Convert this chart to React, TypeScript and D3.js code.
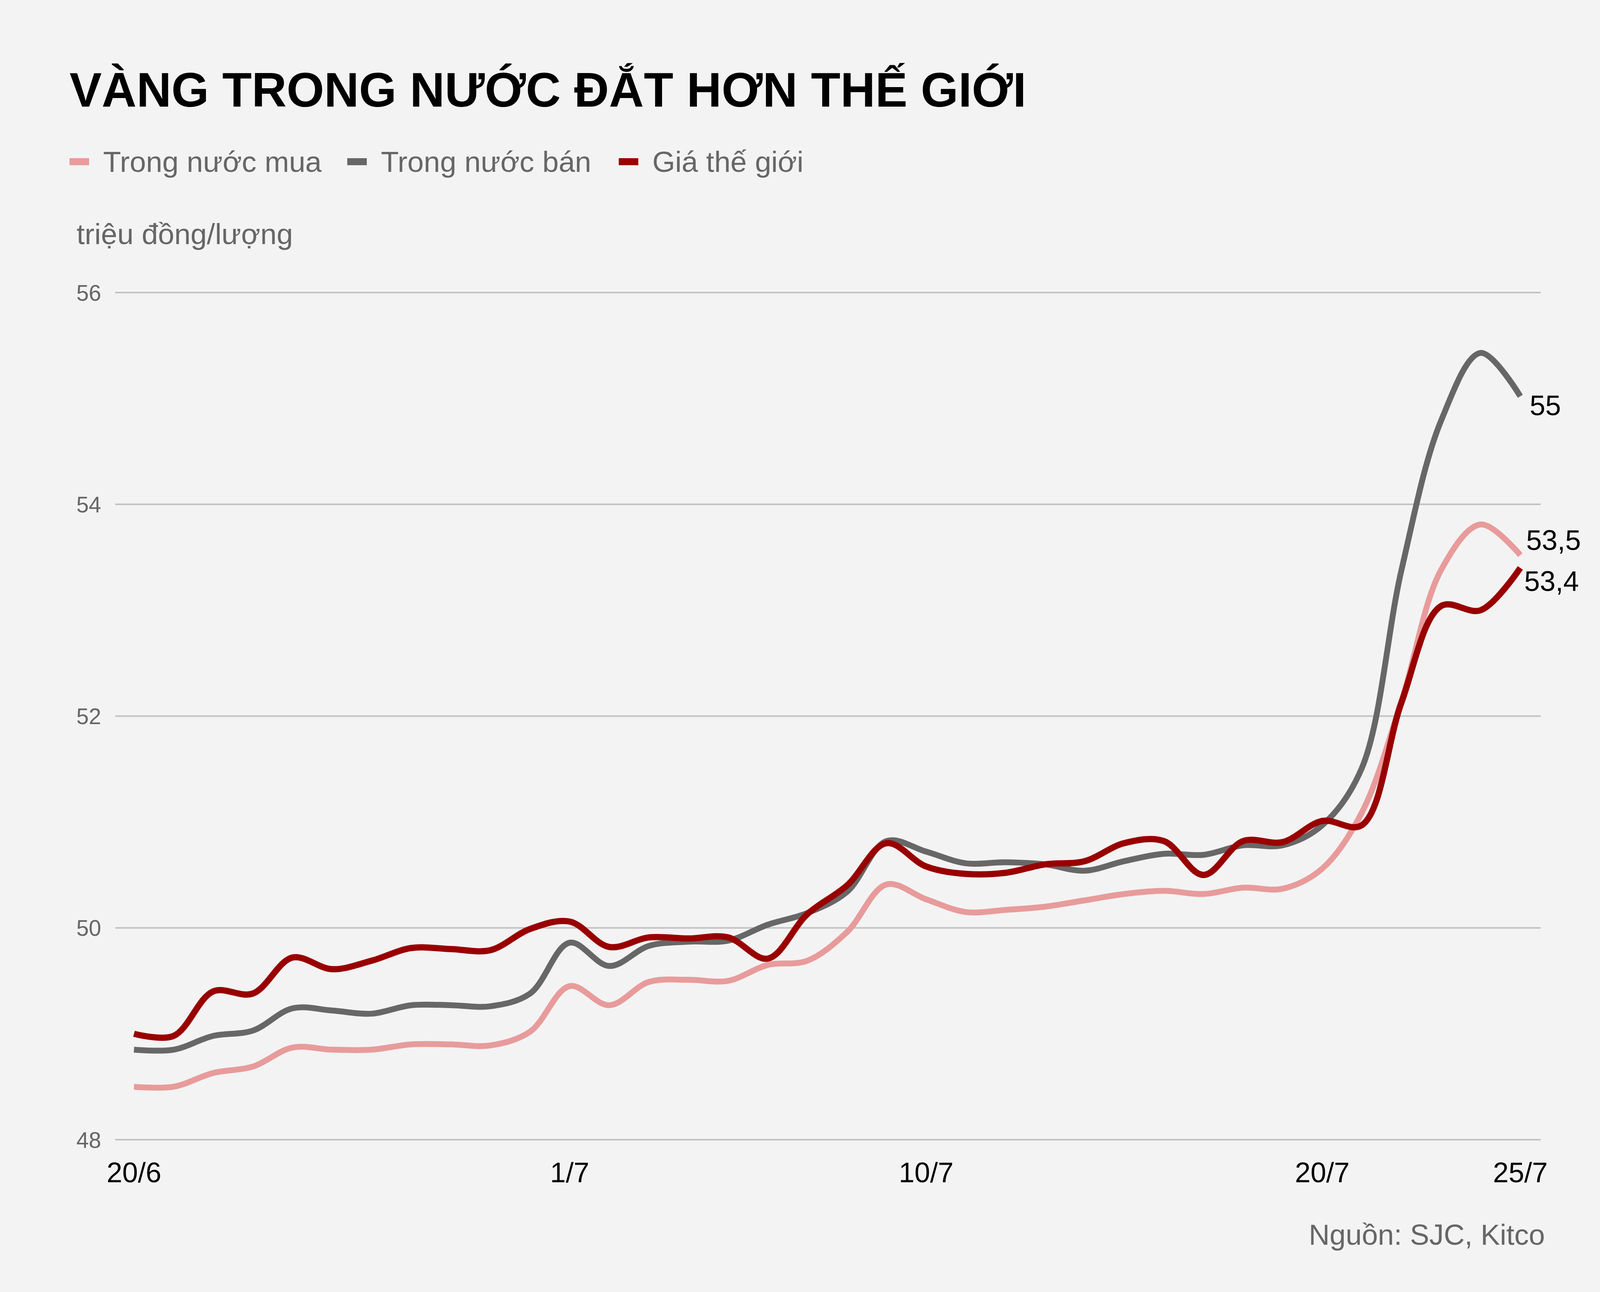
import React from "react";
import * as d3 from "d3";

const dates = ["20/6","21/6","22/6","23/6","24/6","25/6","26/6","27/6","28/6","29/6","30/6","1/7","2/7","3/7","4/7","5/7","6/7","7/7","8/7","9/7","10/7","11/7","12/7","13/7","14/7","15/7","16/7","17/7","18/7","19/7","20/7","21/7","22/7","23/7","24/7","25/7"];
const tickLabels = ["20/6","1/7","10/7","20/7","25/7"];
const yTicks = [48, 50, 52, 54, 56];

const buyDomestic = [48.50,48.50,48.63,48.69,48.87,48.85,48.85,48.90,48.90,48.89,49.02,49.45,49.27,49.49,49.51,49.50,49.65,49.69,49.96,50.41,50.27,50.15,50.17,50.20,50.26,50.32,50.35,50.32,50.38,50.37,50.56,51.09,52.14,53.38,53.81,53.52];
const sellDomestic = [48.85,48.85,48.98,49.03,49.24,49.22,49.19,49.27,49.27,49.26,49.38,49.86,49.64,49.83,49.87,49.88,50.03,50.14,50.34,50.82,50.72,50.61,50.62,50.60,50.54,50.63,50.70,50.69,50.78,50.78,50.97,51.51,53.38,54.79,55.43,55.02];
const worldPrice = [49.00,48.98,49.40,49.38,49.72,49.61,49.69,49.81,49.80,49.79,49.99,50.06,49.82,49.91,49.90,49.91,49.71,50.13,50.40,50.80,50.58,50.51,50.52,50.60,50.63,50.80,50.82,50.50,50.82,50.81,51.01,50.97,52.13,53.04,53.00,53.40];

const seriesNames = ["Trong nước mua", "Trong nước bán", "Giá thế giới"];
const endLabels = ["53,5", "55", "53,4"];

const W = 4179, H = 3308;
const FONT = "'Liberation Sans', Arial, sans-serif";
const colors = ["#e89b9b", "#676767", "#990000"];
const widths = [15, 15, 16];
const labelOffsets = [[15, -13], [24, 48], [10, 59]];

export default function App() {
  const x = d3.scaleLinear().domain([0, dates.length - 1]).range([343, 3892]);
  const y = d3.scaleLinear().domain([48, 56]).range([2918, 749]);
  const series = [buyDomestic, sellDomestic, worldPrice];
  const line = d3.line<number>().x((_, i) => x(i)).y(d => y(d)).curve(d3.curveCatmullRom.alpha(0.5));
  const legendX = [178, 889, 1584];

  return (
    <svg width={W} height={H} style={{ position: "absolute", left: 0, top: 0, display: "block" }} fontFamily={FONT}>
      <rect x={0} y={0} width={W} height={H} fill="#f3f3f3" />
      <text x={178} y={273} fontSize={123.5} fontWeight="bold" fill="#000">VÀNG TRONG NƯỚC ĐẮT HƠN THẾ GIỚI</text>
      {seriesNames.map((n, i) => (
        <g key={n}>
          <rect x={legendX[i]} y={405} width={50} height={18} fill={colors[i]} />
          <text x={legendX[i] + 86} y={440} fontSize={75} fill="#666">{n}</text>
        </g>
      ))}
      <text x={196} y={625} fontSize={75} fill="#666">triệu đồng/lượng</text>
      {yTicks.map(t => (
        <g key={t}>
          <line x1={295} x2={3944} y1={y(t)} y2={y(t)} stroke="#c2c2c2" strokeWidth={4} />
          <text x={259} y={y(t)} dy="0.36em" textAnchor="end" fontSize={57} fill="#666">{t}</text>
        </g>
      ))}
      {series.map((s, i) => (
        <path key={i} d={line(s) || ""} fill="none" stroke={colors[i]} strokeWidth={widths[i]} strokeLinejoin="round" />
      ))}
      {series.map((s, i) => (
        <text key={"l" + i} x={x(s.length - 1) + labelOffsets[i][0]} y={y(s[s.length - 1]) + labelOffsets[i][1]} fontSize={72} fill="#000">{endLabels[i]}</text>
      ))}
      {tickLabels.map(t => (
        <text key={t} x={x(dates.indexOf(t))} y={3027} textAnchor="middle" fontSize={72} fill="#000">{t}</text>
      ))}
      <text x={3955} y={3187} textAnchor="end" fontSize={74} fill="#666">Nguồn: SJC, Kitco</text>
    </svg>
  );
}
